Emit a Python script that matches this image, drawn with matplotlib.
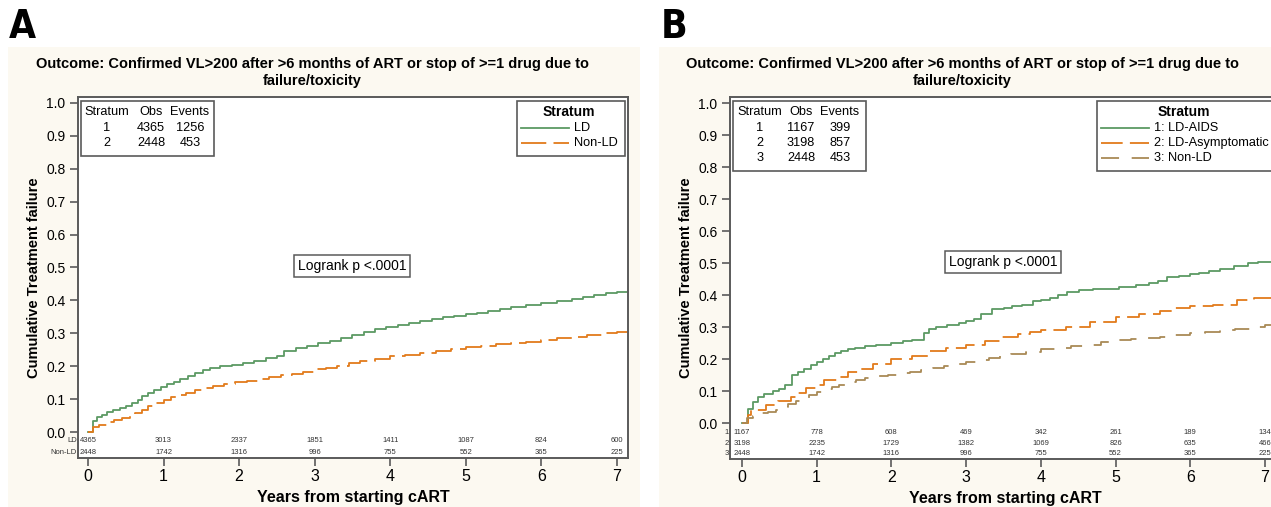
import numpy as np
import matplotlib.pyplot as plt
from matplotlib.patches import Rectangle
from matplotlib.lines import Line2D

W, H = 1271, 507
plt.rcParams['font.family'] = ['Liberation Sans', 'DejaVu Sans']

GREEN = '#5c9a63'
ORANGE = '#e27b1b'
BROWN = '#a98a56'
CREAM = '#fcf9f1'
FRAME = '#5a5a5a'

# ---- data ----
years = [0, 1, 2, 3, 4, 5, 6, 7]

# panel A, LD
ld_t = [0, 0.06, 0.12, 0.18, 0.25, 0.33, 0.42, 0.5, 0.58, 0.66, 0.72, 0.8, 0.88, 0.96, 1.05,
        1.14, 1.22, 1.32, 1.42, 1.52, 1.62, 1.75, 1.9, 2.05, 2.2, 2.35, 2.5, 2.6, 2.75, 2.9,
        3.05, 3.2, 3.35, 3.5, 3.65, 3.8, 3.95, 4.1, 4.25, 4.4, 4.55, 4.7, 4.85, 5.0, 5.15,
        5.3, 5.45, 5.6, 5.8, 6.0, 6.2, 6.4, 6.55, 6.7, 6.85, 7.0, 7.15]
ld_y = [0, 0.032, 0.045, 0.052, 0.06, 0.068, 0.074, 0.08, 0.088, 0.098, 0.11, 0.12, 0.128,
        0.136, 0.145, 0.153, 0.16, 0.17, 0.18, 0.188, 0.195, 0.2, 0.205, 0.211, 0.217, 0.224,
        0.232, 0.245, 0.255, 0.262, 0.27, 0.278, 0.287, 0.296, 0.305, 0.312, 0.318, 0.325,
        0.332, 0.338, 0.343, 0.348, 0.353, 0.358, 0.363, 0.368, 0.373, 0.38, 0.387, 0.393,
        0.398, 0.404, 0.41, 0.417, 0.422, 0.425, 0.428]

# Non-LD (same stratum in both panels)
nonld_t = [0, 0.07, 0.15, 0.25, 0.35, 0.45, 0.55, 0.62, 0.72, 0.8, 0.9, 1.0, 1.1, 1.2, 1.3,
           1.42, 1.52, 1.65, 1.8, 1.95, 2.1, 2.25, 2.4, 2.55, 2.7, 2.85, 3.0, 3.15, 3.3, 3.45,
           3.6, 3.8, 4.0, 4.2, 4.4, 4.6, 4.8, 5.0, 5.2, 5.4, 5.6, 5.8, 6.0, 6.2, 6.4, 6.6,
           6.8, 7.0, 7.15]
nonld_y = [0, 0.015, 0.022, 0.03, 0.035, 0.042, 0.05, 0.058, 0.068, 0.078, 0.088, 0.098,
           0.106, 0.113, 0.12, 0.127, 0.133, 0.14, 0.146, 0.151, 0.155, 0.16, 0.166, 0.172,
           0.177, 0.183, 0.19, 0.196, 0.202, 0.209, 0.215, 0.222, 0.23, 0.235, 0.24, 0.245,
           0.252, 0.258, 0.262, 0.266, 0.27, 0.275, 0.281, 0.286, 0.29, 0.295, 0.3, 0.305, 0.308]

# panel B, LD-AIDS
aids_t = [0, 0.08, 0.15, 0.22, 0.3, 0.41, 0.5, 0.58, 0.67, 0.75, 0.83, 0.92, 1.0, 1.08, 1.16,
          1.25, 1.33, 1.42, 1.51, 1.65, 1.8, 2.0, 2.15, 2.27, 2.43, 2.5, 2.6, 2.75, 2.9, 3.0,
          3.1, 3.2, 3.34, 3.5, 3.62, 3.75, 3.9, 4.0, 4.12, 4.23, 4.35, 4.51, 4.7, 4.9, 5.05,
          5.27, 5.45, 5.57, 5.69, 5.85, 6.0, 6.12, 6.25, 6.4, 6.58, 6.77, 6.9, 7.2]
aids_y = [0, 0.043, 0.065, 0.08, 0.09, 0.1, 0.105, 0.12, 0.15, 0.16, 0.17, 0.18, 0.19, 0.2,
          0.21, 0.218, 0.225, 0.23, 0.235, 0.24, 0.245, 0.25, 0.255, 0.26, 0.28, 0.295, 0.3,
          0.305, 0.312, 0.32, 0.325, 0.34, 0.355, 0.36, 0.365, 0.37, 0.38, 0.385, 0.39, 0.4,
          0.408, 0.415, 0.418, 0.42, 0.424, 0.43, 0.438, 0.445, 0.455, 0.46, 0.465, 0.47,
          0.475, 0.48, 0.49, 0.5, 0.503, 0.505]

# panel B, LD-Asymptomatic
asym_t = [0, 0.08, 0.12, 0.32, 0.48, 0.65, 0.74, 0.86, 1.0, 1.1, 1.28, 1.42, 1.55, 1.75, 2.0,
          2.27, 2.5, 2.73, 3.0, 3.25, 3.48, 3.7, 3.86, 4.0, 4.33, 4.66, 5.0, 5.31, 5.59, 5.8,
          6.0, 6.3, 6.63, 6.85, 7.2]
asym_y = [0, 0.025, 0.04, 0.055, 0.07, 0.08, 0.095, 0.11, 0.12, 0.135, 0.145, 0.16, 0.17,
          0.185, 0.2, 0.21, 0.225, 0.235, 0.245, 0.255, 0.27, 0.278, 0.285, 0.29, 0.3, 0.315,
          0.33, 0.34, 0.35, 0.358, 0.365, 0.37, 0.385, 0.392, 0.396]

# numbers at risk
risk_ld = [4365, 3013, 2337, 1851, 1411, 1087, 824, 600]
risk_nonld = [2448, 1742, 1316, 996, 755, 552, 365, 225]
risk_aids = [1167, 778, 608, 469, 342, 261, 189, 134]
risk_asym = [3198, 2235, 1729, 1382, 1069, 826, 635, 466]

table_a = [["1", "4365", "1256"], ["2", "2448", "453"]]
table_b = [["1", "1167", "399"], ["2", "3198", "857"], ["3", "2448", "453"]]

title = "Outcome: Confirmed VL>200 after >6 months of ART or stop of >=1 drug due to\nfailure/toxicity"


def fx(px):
    return px / W


def fy(py):
    return 1 - py / H


fig = plt.figure(figsize=(W / 100, H / 100), dpi=100)
fig.patches.append(Rectangle((fx(8), 0), fx(640 - 8), fy(47), transform=fig.transFigure,
                             facecolor=CREAM, edgecolor='none', zorder=-10))
fig.patches.append(Rectangle((fx(659), 0), fx(W - 659), fy(47), transform=fig.transFigure,
                             facecolor=CREAM, edgecolor='none', zorder=-10))


def setup_axes(left, right, top, bottom, xlim, ylim):
    ax = fig.add_axes([fx(left), fy(bottom), fx(right - left), (bottom - top) / H])
    ax.set_facecolor('white')
    ax.set_xlim(*xlim)
    ax.set_ylim(*ylim)
    ax.set_xticks(years)
    ax.set_xticklabels([str(y) for y in years], fontsize=11.5)
    yt = np.round(np.arange(0, 1.01, 0.1), 1)
    ax.set_yticks(yt)
    ax.set_yticklabels(['%.1f' % v for v in yt], fontsize=10)
    ax.tick_params(direction='out', length=6, width=1.2, color=FRAME, pad=3)
    ax.tick_params(axis='x', pad=2)
    for s in ax.spines.values():
        s.set_color(FRAME)
        s.set_linewidth(1.4)
    ax.set_xlabel("Years from starting cART", fontsize=11.5, fontweight='bold', labelpad=4)
    ax.set_ylabel("Cumulative Treatment failure", fontsize=10.5, fontweight='bold', labelpad=4)
    return ax


def box_text(x0, y0, x1, y1):
    fig.patches.append(Rectangle((fx(x0), fy(y1)), fx(x1 - x0), (y1 - y0) / H,
                                 transform=fig.transFigure, facecolor='white',
                                 edgecolor=FRAME, linewidth=1.2, zorder=5))


def stat_table(x0, x1, y0, cols, rows):
    nrow = len(rows) + 1
    box_text(x0, y0, x1, y0 + 8 + 15.5 * nrow)
    heads = ["Stratum", "Obs", "Events"]
    for c, hd in zip(cols, heads):
        fig.text(fx(c), fy(y0 + 11), hd, ha='center', va='center', fontsize=9.2, zorder=6)
    for i, r in enumerate(rows):
        for c, v in zip(cols, r):
            fig.text(fx(c), fy(y0 + 11 + 15.5 * (i + 1)), v, ha='center', va='center',
                     fontsize=9.2, zorder=6)


def legend_box(x0, x1, y0, entries, cx):
    n = len(entries) + 1
    box_text(x0, y0, x1, y0 + 8 + 15.5 * n)
    fig.text(fx(cx), fy(y0 + 11), "Stratum",
             ha='center', va='center', fontsize=10, fontweight='bold', zorder=6)
    for i, (lab, col, dash) in enumerate(entries):
        yy = fy(y0 + 11 + 15.5 * (i + 1))
        ln = Line2D([fx(x0 + 4), fx(x0 + 52)], [yy, yy], transform=fig.transFigure,
                    color=col, lw=1.3, zorder=6)
        if dash is not None:
            ln.set_dashes(dash)
        fig.lines.append(ln)
        fig.text(fx(x0 + 57), yy, lab, ha='left', va='center', fontsize=9.2, zorder=6)


# ---------------- Panel A ----------------
fig.text(fx(9), fy(27), "A", fontsize=28, fontweight='bold', ha='left', va='center',
         family=['DejaVu Sans'], fontstretch='condensed')
fig.text(fx(312), fy(72.5), title, ha='center', va='center', fontsize=10.5,
         fontweight='bold', linespacing=1.35)

axA = setup_axes(78, 628, 97, 458, (-0.132, 7.146), (-0.079, 1.018))
axA.step(ld_t, ld_y, where='post', color=GREEN, lw=1.3)
ln, = axA.step(nonld_t, nonld_y, where='post', color=ORANGE, lw=1.3)
ln.set_dashes((14, 4))

for x, a, b in zip(years, risk_ld, risk_nonld):
    axA.text(x, -0.027, str(a), ha='center', va='center', fontsize=5.5, color='#333333')
    axA.text(x, -0.061, str(b), ha='center', va='center', fontsize=5.5, color='#333333')
axA.text(-0.145, -0.027, "LD", ha='right', va='center', fontsize=5.5, color='#333333')
axA.text(-0.145, -0.061, "Non-LD", ha='right', va='center', fontsize=5.5, color='#333333')

stat_table(81, 214, 101, [107, 151, 190], table_a)
legend_box(517, 625, 101, [("LD", GREEN, None), ("Non-LD", ORANGE, (14, 4))], 569)
fig.text(fx(352), fy(266), "Logrank p <.0001", ha='center', va='center', fontsize=10,
         bbox=dict(boxstyle='square,pad=0.3', facecolor='white', edgecolor=FRAME, lw=1.1))

# ---------------- Panel B ----------------
fig.text(fx(661), fy(27), "B", fontsize=28, fontweight='bold', ha='left', va='center',
         family=['DejaVu Sans'], fontstretch='condensed')
fig.text(fx(962), fy(72.5), title, ha='center', va='center', fontsize=10.5,
         fontweight='bold', linespacing=1.35)

axB = setup_axes(730, 1280, 97, 459, (-0.16, 7.2), (-0.1125, 1.019))
axB.step(aids_t, aids_y, where='post', color=GREEN, lw=1.3)
ln, = axB.step(asym_t, asym_y, where='post', color=ORANGE, lw=1.3)
ln.set_dashes((12, 4))
ln, = axB.step(nonld_t, nonld_y, where='post', color=BROWN, lw=1.3)
ln.set_dashes((10, 7))

for x, a, b, c in zip(years, risk_aids, risk_asym, risk_nonld):
    axB.text(x, -0.031, str(a), ha='center', va='center', fontsize=5.5, color='#333333')
    axB.text(x, -0.0625, str(b), ha='center', va='center', fontsize=5.5, color='#333333')
    axB.text(x, -0.094, str(c), ha='center', va='center', fontsize=5.5, color='#333333')
for lab, yy in zip(["1", "2", "3"], [-0.031, -0.0625, -0.094]):
    axB.text(-0.175, yy, lab, ha='right', va='center', fontsize=5.5, color='#333333')

stat_table(733, 866, 101, [760, 801, 840], table_b)
legend_box(1097, 1290, 101, [("1: LD-AIDS", GREEN, None),
                             ("2: LD-Asymptomatic", ORANGE, (12, 4)),
                             ("3: Non-LD", BROWN, (10, 7))], 1184)
fig.text(fx(1003), fy(262), "Logrank p <.0001", ha='center', va='center', fontsize=10,
         bbox=dict(boxstyle='square,pad=0.3', facecolor='white', edgecolor=FRAME, lw=1.1))

fig.savefig("out.png", dpi=100)
